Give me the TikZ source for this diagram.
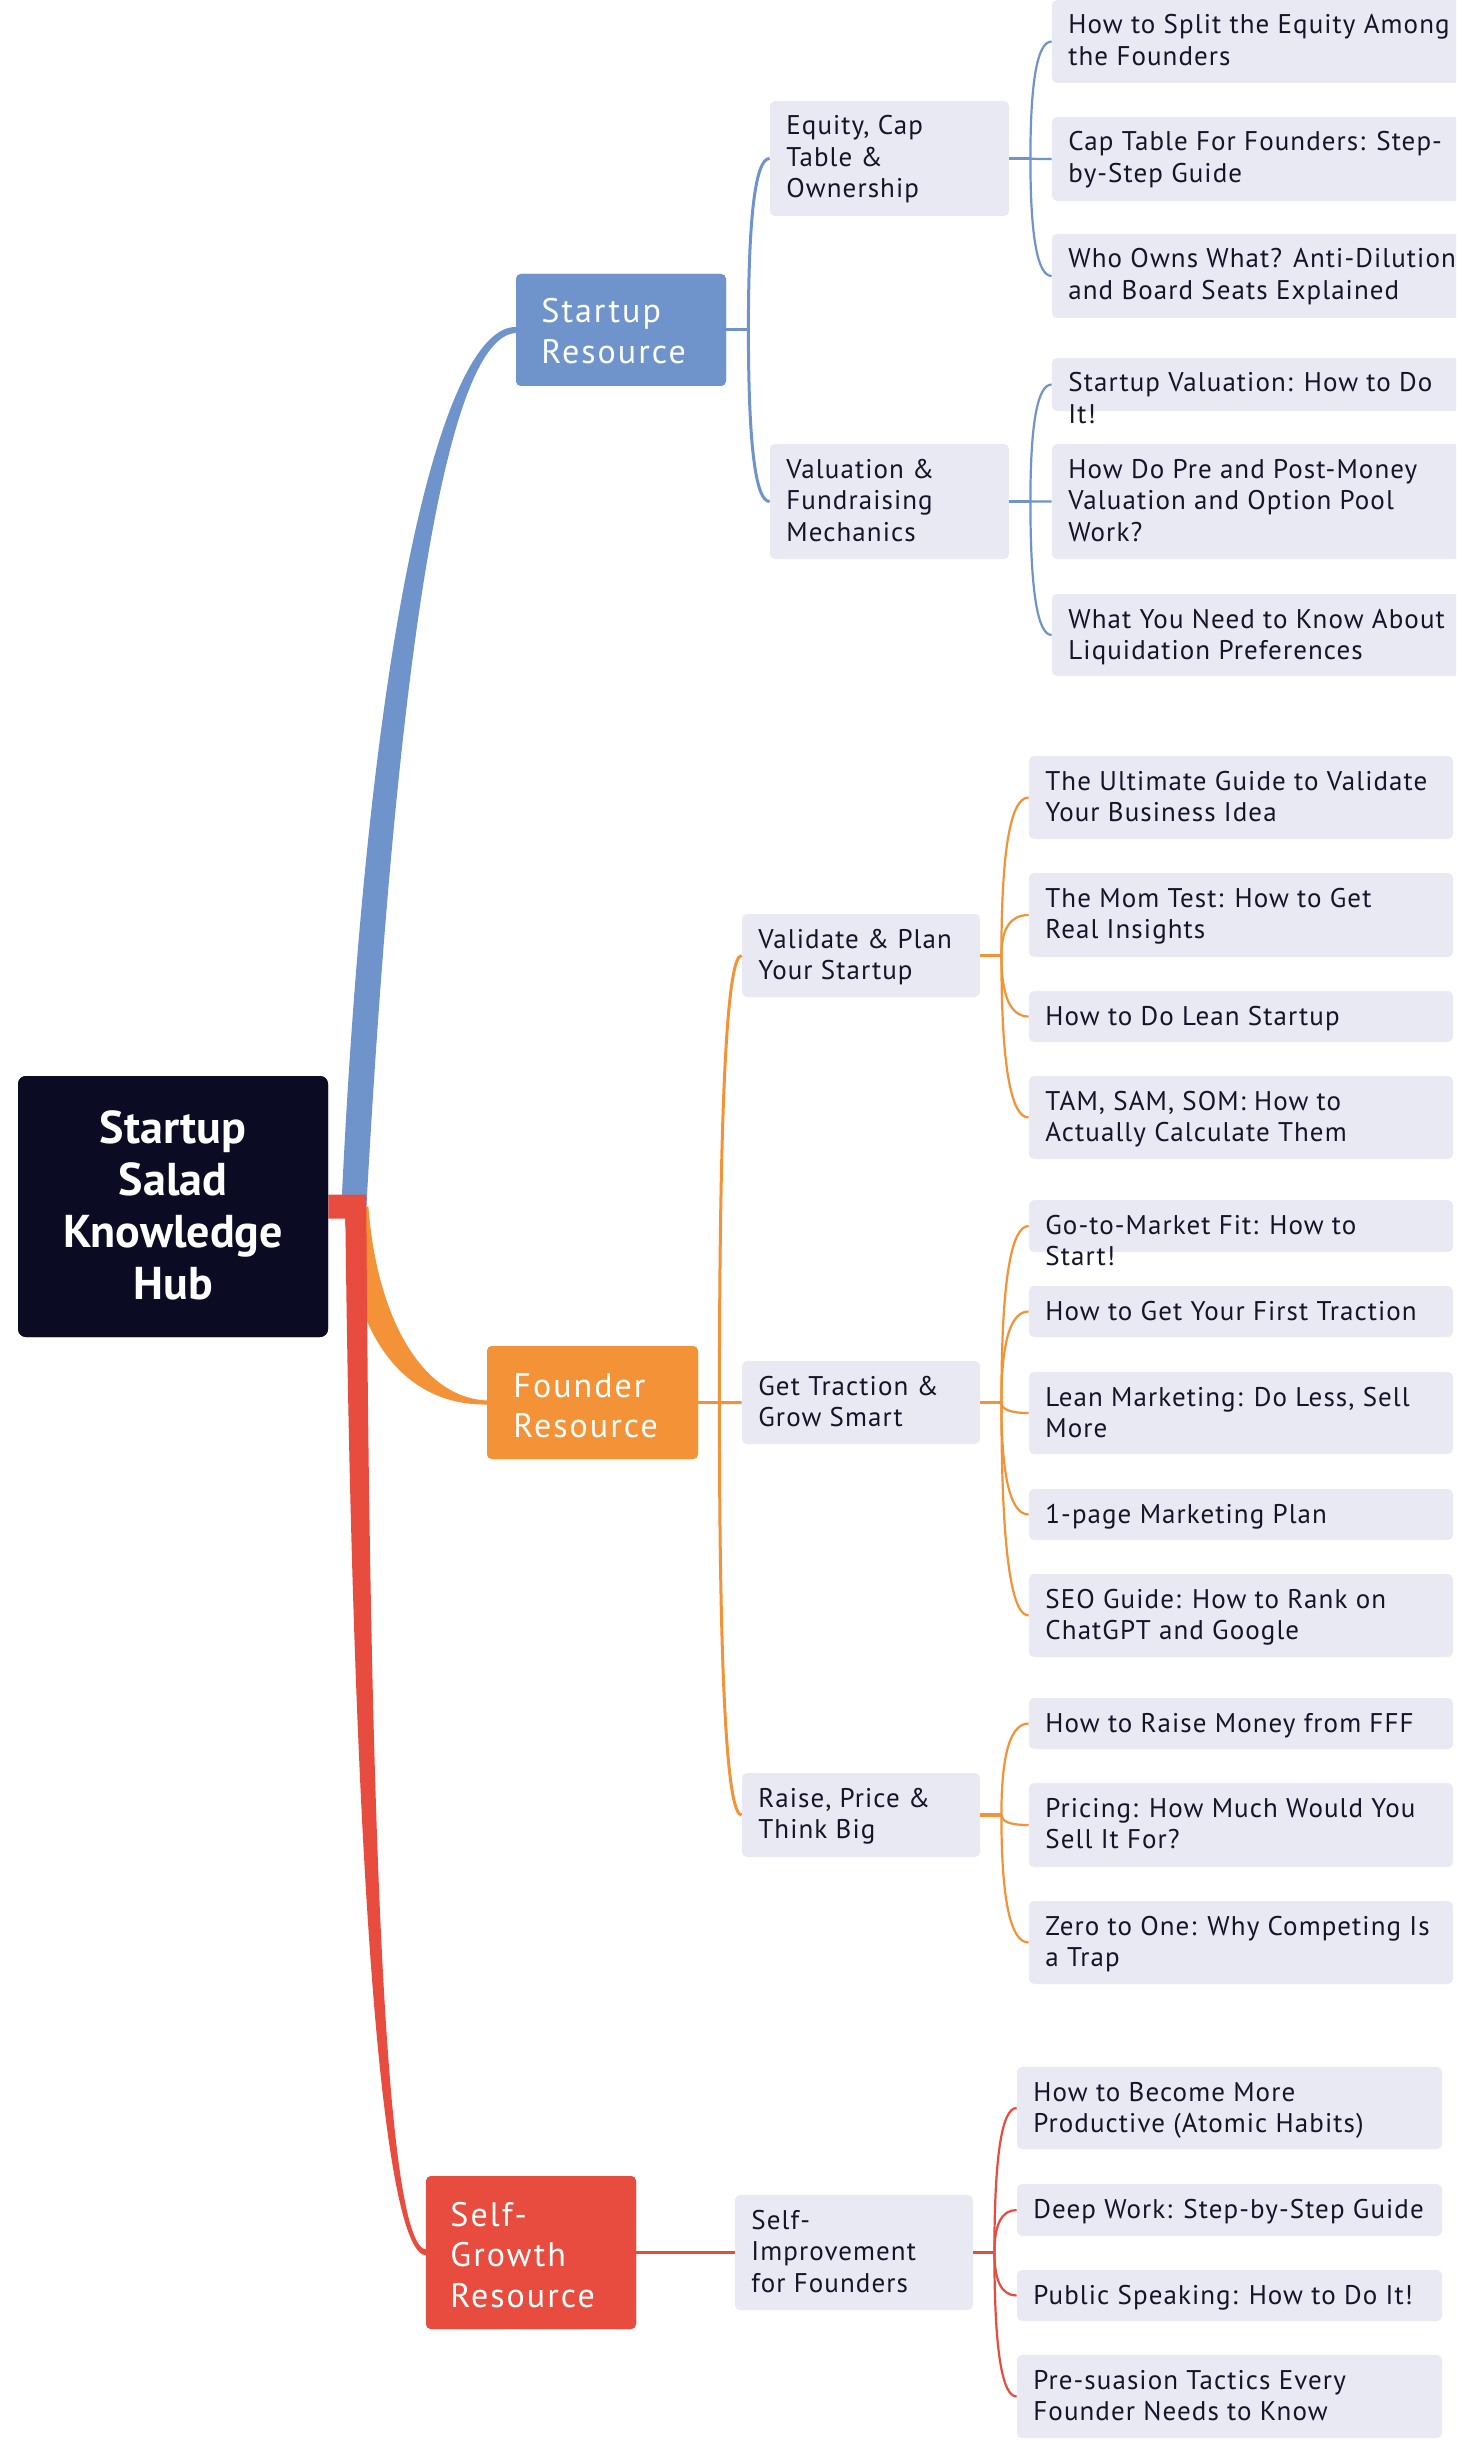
\documentclass[tikz,border=0pt]{standalone}
\usepackage{fontspec}
\setmainfont{PT Sans}
\newfontfamily\leaffam[LetterSpace=4]{PT Sans}
\newfontfamily\mainfam[LetterSpace=6]{PT Sans}
\usetikzlibrary{calc,fit}
\definecolor{cblue}{HTML}{6F94CB}
\definecolor{corange}{HTML}{F39236}
\definecolor{cred}{HTML}{E74C3F}
\definecolor{croot}{HTML}{0B0C24}
\definecolor{cleaf}{HTML}{E9E9F4}
\definecolor{ctext}{HTML}{15152A}
\newcommand{\leaffont}{\leaffam\fontsize{13.5pt}{15.75pt}\selectfont}
\newcommand{\mnfont}{\mainfam\fontsize{17pt}{20.25pt}\selectfont}
\newcommand{\rtfont}{\fontsize{23pt}{26pt}\selectfont\bfseries}
\tikzset{
  leafbox/.style={inner sep=0pt, fill=cleaf, rounded corners=2.5pt},
  leaftext/.style={anchor=base west, inner sep=0pt, text=ctext, font=\leaffont},
  mainbox/.style={inner sep=0pt, fill=#1, rounded corners=2.5pt},
  maintext/.style={anchor=base west, inner sep=0pt, text=white, font=\mnfont},
  mainline/.style={draw=#1, line width=1.5pt},
  stubline/.style={draw=#1, line width=1.75pt},
  leafline/.style={draw=#1, line width=1.1pt},
}
\newcommand{\leaf}[6]{%
  \node[leafbox, fit={(#2,#3) (#4,#5)}] (#1) {};
  \node[leaftext] (#1-t) at ($(#2,#3)+(16,34)$) {\parbox[t]{230pt}{\raggedright #6}};
}
\newcommand{\conn}[3]{%
  \coordinate (tmpc) at (#2 |- #3.west);
  \draw[#1] (#2) .. controls ($(#2)!0.6667!(tmpc)$) and ($(#3.west)!0.6667!(tmpc)$) .. (#3.west);
}
\begin{document}
\begin{tikzpicture}[x=0.5pt, y=-0.5pt]
\useasboundingbox (0,0) rectangle (1456,2445);
\clip (0,0) rectangle (1456,2445);
\fill[white] (0,0) rectangle (1456,2445);

% ---------- nodes ----------
\node[inner sep=0pt, fill=croot, rounded corners=4pt, fit={(18,1076) (328,1337)}] (root) {};
\node[mainbox=cblue, fit={(516,274) (726,386)}] (SR) {};
\node[mainbox=corange, fit={(487,1346) (698,1459)}] (FR) {};
\node[mainbox=cred, fit={(426,2176) (636,2329)}] (SG) {};

% ---------- thick tapered branches ----------
\fill[cblue] ($(root.east)+(13,0)$) .. controls (370,600) and (447,324) .. ($(SR.west)+(1,-3)$)
  -- ($(SR.west)+(1,3)$) .. controls (453,334) and (400,600) .. ($(root.east)+(38,0)$) -- cycle;
\fill[corange] ($(root.east)+(16,0)$) .. controls (348,1330) and (400,1406) .. ($(FR.west)+(1,2)$)
  -- ($(FR.west)+(1,-2)$) .. controls (418,1398) and (376,1310) .. ($(root.east)+(40,0)$) -- cycle;
\fill[cred] ($(root.east)+(0,-12)$) -- ($(root.east)+(38,-12)$) -- ($(root.east)+(38,12)$)
  .. controls (370,1800) and (384,2250) .. ($(SG.west)+(1,-3)$)
  -- ($(SG.west)+(1,3)$) .. controls (378,2256) and (352,1800) .. ($(root.east)+(17,12)$)
  -- ($(root.east)+(0,12)$) -- cycle;

% redraw main boxes on top
\node[inner sep=0pt, fill=croot, rounded corners=4pt, fit={(18,1076) (328,1337)}] (root2) {};
\node[anchor=base, inner sep=0pt, text=white, font=\rtfont] (root-t) at (173,1143)
  {\parbox[t]{300pt}{\centering Startup\\Salad\\Knowledge\\Hub}};
\node[mainbox=cblue, fit={(516,274) (726,386)}] (SR2) {};
\node[mainbox=corange, fit={(487,1346) (698,1459)}] (FR2) {};
\node[mainbox=cred, fit={(426,2176) (636,2329)}] (SG2) {};
\node[maintext] (SR-t) at (541,323) {\parbox[t]{150pt}{Startup\\Resource}};
\node[maintext] (FR-t) at (513,1397) {\parbox[t]{150pt}{Founder\\Resource}};
\node[maintext] (SG-t) at (450,2226) {\parbox[t]{150pt}{Self-\\Growth\\Resource}};

% ---------- blue ----------
\leaf{b1}{770}{101}{1009}{216}{Equity, Cap\\Table \&\\Ownership}
\leaf{b2}{770}{444}{1009}{559}{Valuation \&\\Fundraising\\Mechanics}
\leaf{b11}{1052}{0}{1466}{83}{How to Split the Equity Among\\the Founders}
\leaf{b12}{1052}{117}{1466}{201}{Cap Table For Founders: Step-\\by-Step Guide}
\leaf{b13}{1052}{234}{1466}{318}{Who Owns What? Anti-Dilution\\and Board Seats Explained}
\leaf{b21}{1052}{358}{1466}{411}{Startup Valuation: How to Do\\It!}
\leaf{b22}{1052}{444}{1466}{559}{How Do Pre and Post-Money\\Valuation and Option Pool\\Work?}
\leaf{b23}{1052}{594}{1466}{676}{What You Need to Know About\\Liquidation Preferences}

% ---------- orange ----------
\leaf{o1}{742}{914}{980}{997}{Validate \& Plan\\Your Startup}
\leaf{o2}{742}{1361}{980}{1444}{Get Traction \&\\Grow Smart}
\leaf{o3}{742}{1773}{980}{1857}{Raise, Price \&\\Think Big}
\leaf{o11}{1029}{756}{1453}{839}{The Ultimate Guide to Validate\\Your Business Idea}
\leaf{o12}{1029}{873}{1453}{957}{The Mom Test: How to Get\\Real Insights}
\leaf{o13}{1029}{991}{1453}{1042}{How to Do Lean Startup}
\leaf{o14}{1029}{1076}{1453}{1159}{TAM, SAM, SOM: How to\\Actually Calculate Them}
\leaf{o21}{1029}{1200}{1453}{1252}{Go-to-Market Fit: How to\\Start!}
\leaf{o22}{1029}{1286}{1453}{1337}{How to Get Your First Traction}
\leaf{o23}{1029}{1372}{1453}{1454}{Lean Marketing: Do Less, Sell\\More}
\leaf{o24}{1029}{1489}{1453}{1540}{1-page Marketing Plan}
\leaf{o25}{1029}{1574}{1453}{1657}{SEO Guide: How to Rank on\\ChatGPT and Google}
\leaf{o31}{1029}{1698}{1453}{1749}{How to Raise Money from FFF}
\leaf{o32}{1029}{1783}{1453}{1867}{Pricing: How Much Would You\\Sell It For?}
\leaf{o33}{1029}{1901}{1453}{1984}{Zero to One: Why Competing Is\\a Trap}

% ---------- red ----------
\leaf{r1}{735}{2195}{973}{2310}{Self-\\Improvement\\for Founders}
\leaf{r11}{1017}{2067}{1442}{2149}{How to Become More\\Productive (Atomic Habits)}
\leaf{r12}{1017}{2184}{1442}{2236}{Deep Work: Step-by-Step Guide}
\leaf{r13}{1017}{2270}{1442}{2321}{Public Speaking: How to Do It!}
\leaf{r14}{1017}{2355}{1442}{2438}{Pre-suasion Tactics Every\\Founder Needs to Know}

% ---------- connectors: blue ----------
\coordinate (SRj) at ($(SR.east)+(22,0)$);
\draw[mainline=cblue] (SR.east) -- (SRj);
\conn{mainline=cblue}{SRj}{b1}
\conn{mainline=cblue}{SRj}{b2}
\coordinate (b1j) at ($(b1.east)+(21,0)$);
\draw[stubline=cblue] (b1.east) -- (b1j);
\conn{leafline=cblue}{b1j}{b11}
\conn{leafline=cblue}{b1j}{b12}
\conn{leafline=cblue}{b1j}{b13}
\coordinate (b2j) at ($(b2.east)+(21,0)$);
\draw[stubline=cblue] (b2.east) -- (b2j);
\conn{leafline=cblue}{b2j}{b21}
\conn{leafline=cblue}{b2j}{b22}
\conn{leafline=cblue}{b2j}{b23}

% ---------- connectors: orange ----------
\coordinate (FRj) at ($(FR.east)+(21,0)$);
\draw[mainline=corange] (FR.east) -- (FRj);
\conn{mainline=corange}{FRj}{o1}
\conn{mainline=corange}{FRj}{o2}
\conn{mainline=corange}{FRj}{o3}
\coordinate (o1j) at ($(o1.east)+(21,0)$);
\draw[stubline=corange] (o1.east) -- (o1j);
\conn{leafline=corange}{o1j}{o11}
\conn{leafline=corange}{o1j}{o12}
\conn{leafline=corange}{o1j}{o13}
\conn{leafline=corange}{o1j}{o14}
\coordinate (o2j) at ($(o2.east)+(21,0)$);
\draw[stubline=corange] (o2.east) -- (o2j);
\conn{leafline=corange}{o2j}{o21}
\conn{leafline=corange}{o2j}{o22}
\conn{leafline=corange}{o2j}{o23}
\conn{leafline=corange}{o2j}{o24}
\conn{leafline=corange}{o2j}{o25}
\coordinate (o3j) at ($(o3.east)+(21,0)$);
\draw[stubline=corange] (o3.east) -- (o3j);
\conn{leafline=corange}{o3j}{o31}
\conn{leafline=corange}{o3j}{o32}
\conn{leafline=corange}{o3j}{o33}

% ---------- connectors: red ----------
\draw[mainline=cred] (SG.east) -- (r1.west);
\coordinate (r1j) at ($(r1.east)+(21,0)$);
\draw[stubline=cred] (r1.east) -- (r1j);
\conn{leafline=cred}{r1j}{r11}
\conn{leafline=cred}{r1j}{r12}
\conn{leafline=cred}{r1j}{r13}
\conn{leafline=cred}{r1j}{r14}
\end{tikzpicture}
\end{document}
